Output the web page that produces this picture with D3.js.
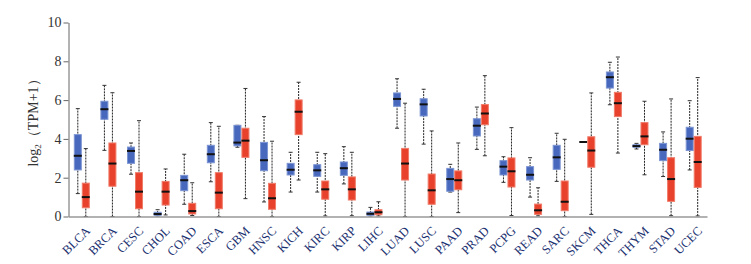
<!DOCTYPE html>
<html>
<head>
<meta charset="utf-8">
<script src="https://cdn.jsdelivr.net/npm/d3@7"></script>
<style>
  html, body { margin: 0; padding: 0; background: #fff; }
  svg text { font-family: "Liberation Serif", "DejaVu Serif", serif; }
</style>
</head>
<body>
<div id="chart"></div>
<script>
// cancer types along the x axis
const categories = ["BLCA","BRCA","CESC","CHOL","COAD","ESCA","GBM","HNSC","KICH","KIRC","KIRP","LIHC",
  "LUAD","LUSC","PAAD","PRAD","PCPG","READ","SARC","SKCM","THCA","THYM","STAD","UCEC"];

// box stats per type: [lower whisker, q1, median, q3, upper whisker]
const blueBoxes = [
  [1.18, 2.40, 3.13, 4.22, 5.56],
  [3.41, 5.01, 5.53, 5.94, 6.76],
  [2.18, 2.74, 3.38, 3.58, 3.79],
  [0.03, 0.06, 0.13, 0.22, 0.35],
  [0.63, 1.33, 1.87, 2.12, 3.21],
  [1.79, 2.77, 3.21, 3.67, 4.84],
  [3.57, 3.64, 3.81, 4.70, 4.70],
  [0.75, 2.36, 2.90, 3.82, 5.15],
  [1.26, 2.14, 2.41, 2.74, 3.31],
  [1.26, 2.07, 2.38, 2.67, 3.31],
  [1.68, 2.12, 2.49, 2.81, 3.60],
  [0.03, 0.06, 0.14, 0.23, 0.47],
  [4.55, 5.68, 6.06, 6.37, 7.10],
  [3.73, 5.18, 5.78, 6.07, 6.56],
  [1.26, 1.30, 1.93, 2.48, 2.69],
  [3.46, 4.15, 4.68, 5.04, 5.64],
  [1.76, 2.14, 2.57, 2.88, 3.08],
  [1.00, 1.88, 2.15, 2.57, 3.03],
  [1.81, 2.43, 3.05, 3.67, 4.29],
  [3.84, 3.84, 3.84, 3.84, 3.84],
  [5.76, 6.62, 7.18, 7.45, 7.95],
  [3.48, 3.57, 3.63, 3.70, 3.77],
  [2.06, 2.88, 3.44, 3.77, 4.36],
  [2.40, 3.40, 4.01, 4.60, 5.97]
];

const redBoxes = [
  [0.00, 0.45, 1.00, 1.72, 3.50],
  [0.00, 1.56, 2.73, 3.79, 6.38],
  [0.00, 0.40, 1.28, 2.26, 4.94],
  [0.08, 0.59, 1.28, 1.81, 2.45],
  [0.05, 0.13, 0.28, 0.68, 1.74],
  [0.00, 0.40, 1.23, 2.26, 4.65],
  [0.92, 3.05, 3.91, 4.55, 6.60],
  [0.00, 0.37, 0.94, 1.71, 3.88],
  [1.88, 4.22, 5.40, 6.01, 6.92],
  [0.03, 0.89, 1.40, 1.83, 3.24],
  [0.04, 0.85, 1.40, 2.04, 3.31],
  [0.03, 0.09, 0.22, 0.35, 0.76],
  [0.00, 1.88, 2.73, 3.51, 5.84],
  [0.00, 0.63, 1.35, 2.19, 4.41],
  [0.20, 1.38, 1.87, 2.35, 3.79],
  [3.13, 4.73, 5.31, 5.77, 7.26],
  [0.05, 1.52, 2.33, 3.02, 4.58],
  [0.03, 0.11, 0.32, 0.64, 1.48],
  [0.00, 0.30, 0.76, 1.83, 3.98],
  [0.11, 2.54, 3.40, 4.11, 6.37],
  [3.27, 5.15, 5.84, 6.40, 8.22],
  [2.15, 3.70, 4.13, 4.84, 5.94],
  [0.04, 0.78, 1.93, 3.03, 6.06],
  [0.03, 1.50, 2.81, 4.13, 7.16]
];

const yTicks = [0, 2, 4, 6, 8, 10];

const width = 751, height = 264;
const margin = { top: 22.5, bottom: 47.5, left: 68.5, right: 44 };

const svg = d3.select("#chart").append("svg")
  .attr("width", width)
  .attr("height", height);

const x = d3.scaleBand()
  .domain(categories)
  .range([margin.left, width - margin.right]);

const y = d3.scaleLinear()
  .domain([0, 10])
  .range([height - margin.bottom, margin.top]);

const boxW = 8;

// draw one group of boxes (blue or red)
function drawBoxes(data, offset, fill, border) {
  const g = svg.append("g");
  const items = data.map((d, i) => ({ cat: categories[i], s: d }));
  const grp = g.selectAll("g").data(items).join("g")
    .attr("transform", d => `translate(${x(d.cat) + x.bandwidth() / 2 + offset},0)`);

  // dashed whisker
  grp.append("line")
    .attr("x1", 0).attr("x2", 0)
    .attr("y1", d => y(d.s[0])).attr("y2", d => y(d.s[4]))
    .attr("stroke", "#222").attr("stroke-width", 1)
    .attr("stroke-dasharray", "2,1");

  // caps
  [0, 4].forEach(k => {
    grp.append("line")
      .attr("x1", -2).attr("x2", 2)
      .attr("y1", d => y(d.s[k])).attr("y2", d => y(d.s[k]))
      .attr("stroke", "#333").attr("stroke-width", 1);
  });

  grp.append("rect")
    .attr("x", -boxW / 2 + 0.5)
    .attr("width", boxW - 1)
    .attr("y", d => y(d.s[3]))
    .attr("height", d => Math.max(0, y(d.s[1]) - y(d.s[3])))
    .attr("fill", fill)
    .attr("stroke", border)
    .attr("stroke-width", 1);

  grp.append("line")
    .attr("x1", -boxW / 2).attr("x2", boxW / 2)
    .attr("y1", d => y(d.s[2])).attr("y2", d => y(d.s[2]))
    .attr("stroke", "#111").attr("stroke-width", 2);
}

drawBoxes(blueBoxes, -4, "#4868bd", "#7c95d3");
drawBoxes(redBoxes, 4, "#e8422c", "#f07c6a");

// y axis
const yAxis = svg.append("g")
  .attr("transform", `translate(${margin.left},0)`)
  .call(d3.axisLeft(y).tickValues(yTicks).tickSize(5).tickSizeOuter(0));
yAxis.select(".domain").attr("stroke", "#666");
yAxis.selectAll(".tick line").attr("stroke", "#666");
yAxis.selectAll(".tick text")
  .attr("font-size", 14)
  .attr("fill", "#333")
  .attr("x", -7);

// x axis
const xAxis = svg.append("g")
  .attr("transform", `translate(0,${height - margin.bottom})`)
  .call(d3.axisBottom(x).tickSize(0).tickSizeOuter(0));
xAxis.select(".domain").attr("stroke", "#999").attr("stroke-width", 1.5);
xAxis.selectAll(".tick text")
  .attr("font-size", 12.5)
  .attr("fill", "#1a3070")
  .attr("text-anchor", "end")
  .attr("dy", 0)
  .attr("transform", "translate(7,13) rotate(-45)");

// y label
const yl = svg.append("text")
  .attr("transform", `translate(38,${y(5)}) rotate(-90)`)
  .attr("text-anchor", "middle")
  .attr("font-size", 14)
  .attr("fill", "#333");
yl.append("tspan").text("log");
yl.append("tspan").attr("font-size", 9).attr("dy", 3).text("2");
yl.append("tspan").attr("dy", -3).text("（TPM+1）");
</script>
</body>
</html>
